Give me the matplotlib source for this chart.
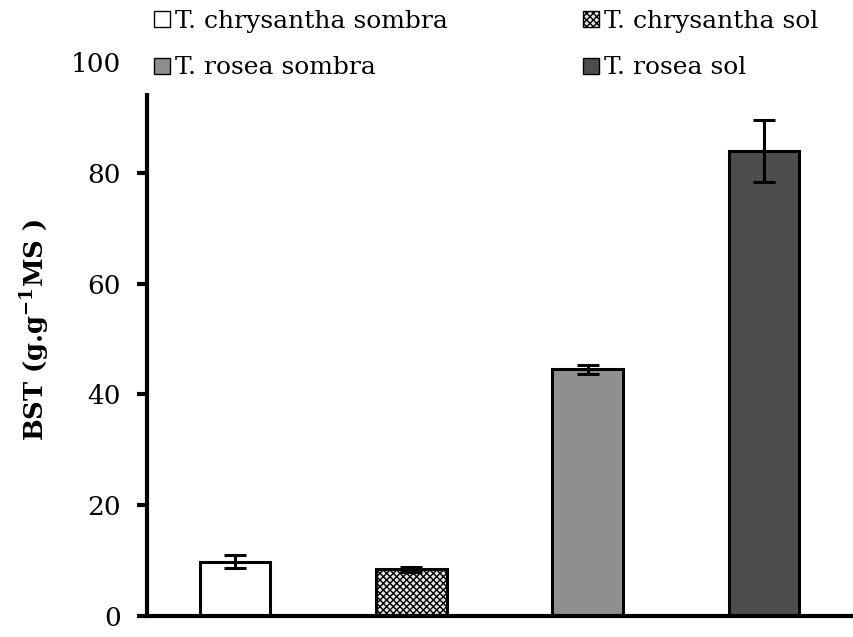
import matplotlib
matplotlib.use("Agg")
import matplotlib.pyplot as plt
import numpy as np
from matplotlib.patches import Patch, Rectangle

plt.rcParams['font.family'] = ['DejaVu Serif']
plt.rcParams['mathtext.fontset'] = 'dejavuserif'
plt.rcParams['hatch.linewidth'] = 1.0

categories = ["T. chrysantha sombra", "T. chrysantha sol", "T. rosea sombra", "T. rosea sol"]
values = [9.8, 8.4, 44.5, 83.9]
errors = [1.2, 0.5, 0.85, 5.6]
yticks = [0, 20, 40, 60, 80, 100]

colors = ['white', '#e6e6e6', '#8f8f8f', '#4d4d4d']
hatches = [None, 'xxxxx', None, None]

W, H = 854, 637
fig = plt.figure(figsize=(W/100, H/100), dpi=100)
ax = fig.add_axes([147/W, 1-616/H, 705/W, (616-62)/H])

x = np.arange(len(categories))
bars = ax.bar(x, values, width=0.40, color=colors, edgecolor='black', linewidth=2.2, zorder=2)
for b, h in zip(bars, hatches):
    if h:
        b.set_hatch(h)
ax.errorbar(x, values, yerr=errors, fmt='none', ecolor='black', elinewidth=2.2,
            capsize=8, capthick=2.2, zorder=3)

ax.set_xlim(-0.5, 3.5)
ax.set_ylim(0, 100)
ax.set_yticks(yticks)
ax.set_xticks([])
for s in ['top', 'right']:
    ax.spines[s].set_visible(False)
ax.spines['left'].set_linewidth(3)
ax.spines['bottom'].set_linewidth(3)
ax.tick_params(axis='y', direction='out', length=7, width=3, labelsize=19, pad=12)
ax.set_ylabel(r'BST (g.g$^{\mathbf{-1}}$MS )', fontsize=18.5, fontweight='bold')
ax.yaxis.set_label_coords(-95/705, (616-330)/554)

# white mask over the top of the axis (legend area)
fig.add_artist(Rectangle((130/W, 1-93/H), 30/W, 40/H, transform=fig.transFigure,
                         facecolor='white', edgecolor='none', zorder=10))

handles = [Patch(facecolor=c, edgecolor='black', linewidth=1.0, hatch=h) for c, h in zip(colors, hatches)]
order = [0, 2, 1, 3]
leg = fig.legend([handles[i] for i in order], [categories[i] for i in order],
                 ncol=2, loc='upper left', bbox_to_anchor=(135/W, 1 + 9/H),
                 frameon=False, fontsize=18, handlelength=0.65, handleheight=0.6,
                 handletextpad=0.2, columnspacing=5.4, labelspacing=0.95,
                 borderpad=0.25)
leg.set_zorder(11)

fig.savefig('out.png', dpi=100)
